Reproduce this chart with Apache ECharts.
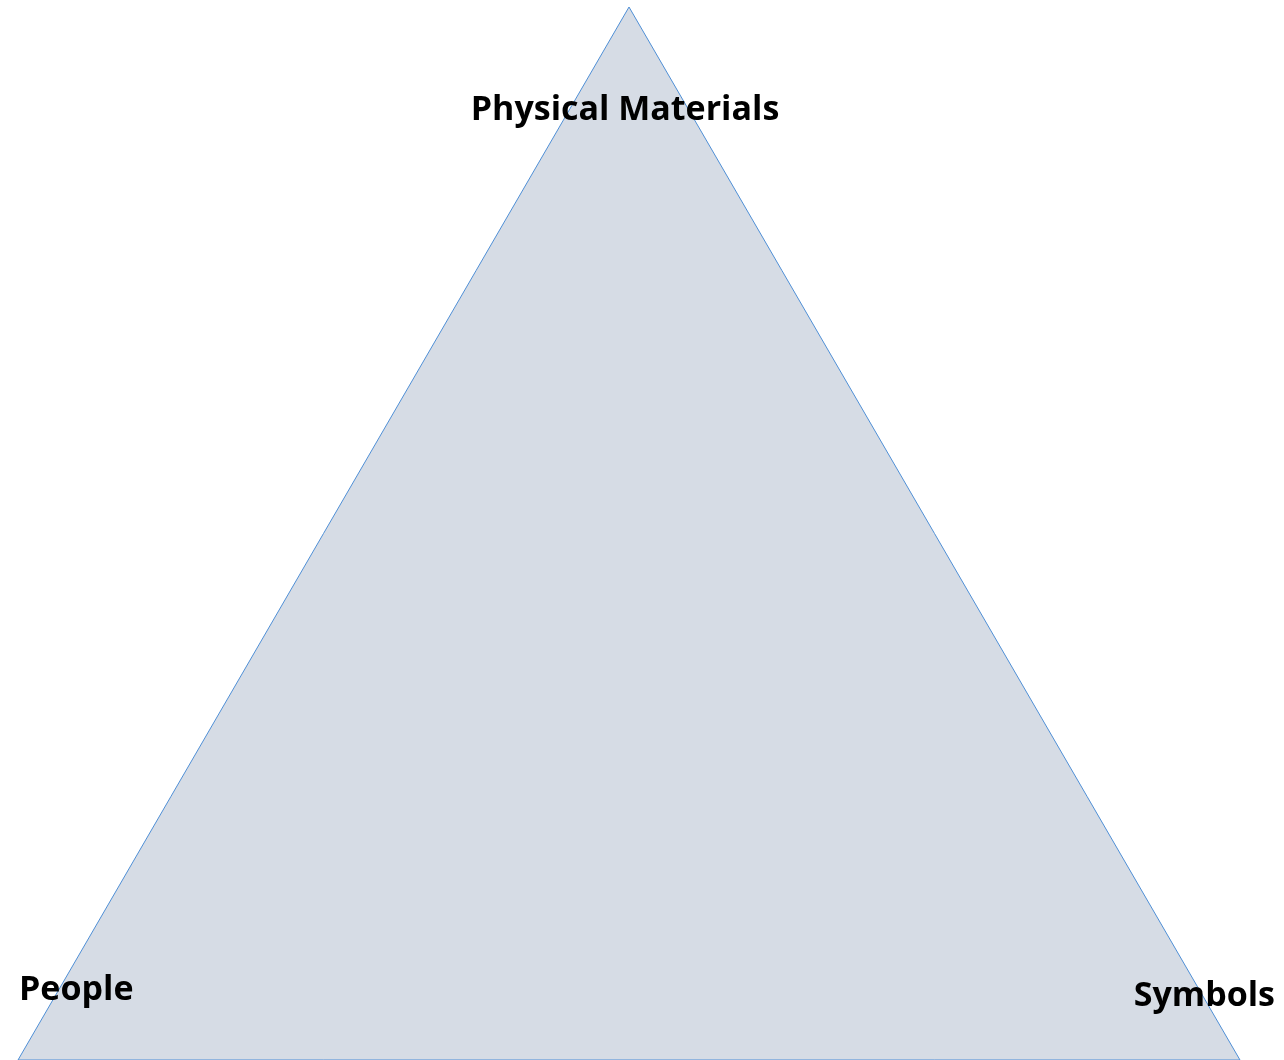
<!DOCTYPE html>
<html>
<head>
<meta charset="utf-8">
<script src="https://cdn.jsdelivr.net/npm/echarts@6/dist/echarts.min.js"></script>
<style>html,body{margin:0;padding:0;background:#fff}#c{width:1284px;height:1060px}</style>
</head>
<body>
<div id="c"></div>
<script>
// Triangle vertices (x, y with y measured upward from bottom edge)
const vertexNames = ['Physical Materials', 'People', 'Symbols'];
const vertexX = [629, 18, 1240];
const vertexY = [1053, 0, 0];
// Label anchor points
const labelX = [625, 19, 1275];
const labelY = [950, 70, 64];

const chart = echarts.init(document.getElementById('c'));
const tri = vertexX.map((x, i) => [x, vertexY[i]]);
const labelAlign = ['center', 'left', 'right'];
chart.setOption({
  animation: false,
  grid: {left: 0, right: 0, top: 0, bottom: 0},
  xAxis: {type: 'value', min: 0, max: 1284, show: false},
  yAxis: {type: 'value', min: 0, max: 1060, show: false},
  series: [
    {
      type: 'custom',
      coordinateSystem: 'cartesian2d',
      data: [0],
      renderItem: function (params, api) {
        const pts = tri.map(p => api.coord(p));
        return {
          type: 'polygon',
          shape: {points: pts},
          style: {fill: '#D6DCE5', stroke: '#4F8FD6', lineWidth: 1}
        };
      },
      z: 1
    },
    {
      type: 'custom',
      coordinateSystem: 'cartesian2d',
      data: vertexNames.map((n, i) => [labelX[i], labelY[i], i]),
      renderItem: function (params, api) {
        const i = api.value(2);
        const p = api.coord([api.value(0), api.value(1)]);
        return {
          type: 'text',
          x: p[0], y: p[1],
          style: {
            text: vertexNames[i],
            fill: '#000',
            font: 'bold 34px "Open Sans"',
            align: labelAlign[i],
            verticalAlign: 'middle'
          }
        };
      },
      z: 2
    }
  ]
});
</script>
</body>
</html>
